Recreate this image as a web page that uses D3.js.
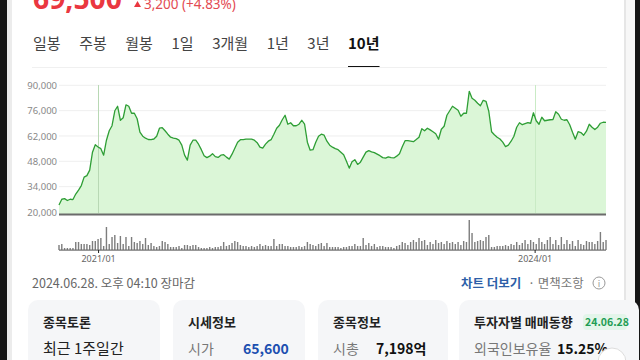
<!DOCTYPE html>
<html><head><meta charset="utf-8">
<script src="https://cdn.jsdelivr.net/npm/d3@7"></script>
<style>
html,body{margin:0;padding:0;background:#fff;}
svg{display:block;font-family:"Noto Sans CJK KR","Noto Sans",sans-serif;}
</style></head><body>
<svg id="c" width="640" height="360"></svg>
<script>
// ---------- data ----------
const startDate = "2020-09-25"; // weekly closes (Fridays) to 2024-06-28
const prices = [
23900,27050,27380,26340,27050,26890,29920,32120,34600,39290,
40110,43140,53060,57190,55930,54990,51410,59670,64900,67660,
75930,78410,70690,72070,79230,78410,74550,74550,71520,64080,
61880,60770,60060,59950,60330,61880,66290,66560,64900,62980,
61330,60880,60500,59670,56920,51410,48650,56920,59670,59670,
57470,54440,51130,50030,50860,52230,50580,50140,51410,51680,
50310,49200,51960,55260,58570,59950,59950,60220,60220,60220,
59670,58290,55810,55260,57470,59120,59950,62980,66290,67940,
70970,73450,68490,69320,67660,67660,68490,70690,68490,58570,
54160,54440,58570,61880,62980,62430,59120,56920,55810,54990,
54440,53060,51680,48100,44240,47720,48930,46290,47550,50310,
53060,53890,53230,52780,51960,51130,50030,49750,50470,50030,
49860,50860,52230,56090,59400,59400,59120,58850,60060,61330,
66010,64900,66290,65350,64360,63250,60220,65730,67390,73450,
75930,78410,77310,76200,72900,74550,74550,86670,82810,81710,
80060,78680,81710,81160,75650,64360,62700,61330,60330,58570,
56090,56920,59120,61880,66840,69320,68220,68770,69320,69040,
74820,70420,68490,72350,70420,70690,70970,71080,75380,74000,
71240,70690,70970,68220,64080,60220,64360,63910,62430,64630,
68490,66840,65570,66840,69040,69590,69500
];
const volumes = [ // thousand shares per week
500,600,200,200,200,200,800,800,600,600,
600,500,900,900,1100,1200,400,2300,600,1300,
1500,700,1400,600,1300,400,1300,800,700,900,
600,1200,500,700,400,300,400,900,800,600,
300,300,300,400,200,500,500,400,500,500,
300,200,200,200,300,200,300,300,400,800,
400,500,700,900,800,500,400,400,300,400,
300,400,600,400,500,400,400,1100,400,600,
600,400,400,300,300,300,400,300,400,800,
600,500,400,600,700,400,700,300,300,300,
300,200,300,300,400,400,600,400,400,1200,
500,700,400,600,300,400,400,300,300,300,
200,400,500,800,700,500,800,1000,800,1200,
900,1000,500,800,600,1000,700,800,600,900,
700,800,600,800,500,900,800,3000,1700,800,
900,1000,900,1300,1500,300,300,400,400,400,
500,400,600,500,800,500,700,1000,600,1000,
800,600,1200,800,600,1000,1300,600,1000,500,
1300,600,1000,600,900,400,1000,600,500,900,
800,800,600,900,1800,800,1000
];
const priceTicks = [20000,34000,48000,62000,76000,90000];
const dateTicks = ["2021-01-01","2024-01-01"];
const dateTickLabels = ["2021/01","2024/01"];
const tabs = ["일봉","주봉","월봉","1일","3개월","1년","3년","10년"];
const activeTab = "10년";
const lastPrice = "69,500";
const change = "3,200 (+4.83%)";
const timestamp = "2024.06.28. 오후 04:10 장마감";
const cardTitles = ["종목토론","시세정보","종목정보","투자자별 매매동향"];
const cardLabels = ["최근 1주일간","시가","시총","외국인보유율"];
const cardValues = ["","65,600","7,198억","15.25%"];

// ---------- drawing ----------
const svg = d3.select("#c");
const parse = d3.timeParse("%Y-%m-%d");
const t0 = parse(startDate);
const dates = prices.map((_, i) => d3.timeDay.offset(t0, 7 * i));
const series = prices.map((p, i) => ({date: dates[i], price: p, vol: volumes[i]}));

// frame
svg.append("rect").attr("x",0).attr("y",0).attr("width",640).attr("height",360).attr("fill","#fff");
svg.append("rect").attr("x",0).attr("y",0).attr("width",7).attr("height",360).attr("fill","#161616");
svg.append("rect").attr("x",7).attr("y",0).attr("width",5).attr("height",360).attr("fill","#ececec");
svg.append("rect").attr("x",624).attr("y",0).attr("width",2).attr("height",360).attr("fill","#e6e6e6");
svg.append("rect").attr("x",626).attr("y",0).attr("width",9).attr("height",360).attr("fill","#f7f7f7");
svg.append("rect").attr("x",635).attr("y",0).attr("width",5).attr("height",360).attr("fill","#161616");

// header price (cut off at the top as in the reference)
const big = svg.append("text").attr("x",33).attr("y",9).attr("font-size",30).attr("font-weight",700)
  .attr("font-family","'Noto Sans',sans-serif").attr("fill","#ea3740").text(lastPrice);
const bw = big.node().getComputedTextLength();
big.attr("font-size", 30 * 89 / bw);
svg.append("path").attr("d","M134,7 L137.5,1 L141,7 Z").attr("fill","#ea3740");
svg.append("text").attr("x",144).attr("y",9).attr("font-size",13.5)
  .attr("font-family","'Noto Sans',sans-serif").attr("fill","#e34a52").text(change);

// tabs
const tabStart = 33, tabEnd = 348;
const tabG = svg.append("g");
const tabEls = tabs.map(t => tabG.append("text").attr("y",49).attr("font-size",15)
    .attr("fill", t===activeTab ? "#111" : "#444").attr("font-weight", t===activeTab ? 700 : 400).text(t));
const widths = tabEls.map(e => e.node().getComputedTextLength());
const gap = (tabEnd - tabStart - d3.sum(widths.slice(0, -1))) / (tabs.length - 1);
let tx = tabStart;
tabEls.forEach((el, i) => {
  el.attr("x", tx);
  if (tabs[i]===activeTab) {
    svg.append("rect").attr("x",tx).attr("y",66).attr("width",widths[i]).attr("height",2).attr("fill","#111");
  }
  tx += widths[i] + gap;
});
svg.append("rect").attr("x",32).attr("y",67).attr("width",575).attr("height",1).attr("fill","#f0f0f0");

// scales
const x = d3.scaleTime().domain(d3.extent(dates)).range([59, 606]);
const y = d3.scaleLinear().domain([20000, 90000]).range([212, 85.3]);
const yv = d3.scaleLinear().domain([0, d3.max(volumes)]).range([250, 220]);

// gridlines
svg.append("g").selectAll("line").data(priceTicks).join("line")
  .attr("x1",59).attr("x2",606).attr("y1",d=>y(d)).attr("y2",d=>y(d))
  .attr("stroke","#efefef").attr("stroke-width",1);
svg.append("g").selectAll("line").data(dateTicks).join("line")
  .attr("x1",d=>Math.round(x(parse(d)))+0.5).attr("x2",d=>Math.round(x(parse(d)))+0.5)
  .attr("y1",85).attr("y2",213)
  .attr("stroke",(d,i)=> i===0 ? "#cfcfcf" : "#ececec").attr("stroke-width",1);

// y axis labels
const yAxis = d3.axisLeft(y).tickValues(priceTicks).tickSize(0).tickPadding(2)
  .tickFormat(d3.format(","));
const ya = svg.append("g").attr("transform","translate(59,0)").call(yAxis);
ya.select(".domain").remove();
ya.selectAll("text").attr("font-size",9.5).attr("fill","#888")
  .attr("font-family","'Noto Sans',sans-serif");

// area + line
const area = d3.area().x(d=>x(d.date)).y0(214).y1(d=>y(d.price));
svg.append("path").datum(series).attr("d",area).attr("fill","#d9f5d5").attr("opacity",0.95);
svg.append("g").selectAll("line").data(dateTicks).join("line")
  .attr("x1",d=>Math.round(x(parse(d)))+0.5).attr("x2",d=>Math.round(x(parse(d)))+0.5)
  .attr("y1",85).attr("y2",213)
  .attr("stroke",(d,i)=> i===0 ? "#b8d8b4" : "#c9ebc5").attr("stroke-width",1);
const line = d3.line().x(d=>x(d.date)).y(d=>y(d.price));
svg.append("path").datum(series).attr("d",line).attr("fill","none")
  .attr("stroke","#2e9e35").attr("stroke-width",1.3).attr("stroke-linejoin","round");
svg.append("rect").attr("x",59).attr("y",213.5).attr("width",547).attr("height",2).attr("fill","#6b6b6b");

// volume
svg.append("g").selectAll("rect").data(series).join("rect")
  .attr("x",d=>x(d.date)-0.7).attr("width",1.4)
  .attr("y",d=>yv(d.vol)).attr("height",d=>250-yv(d.vol))
  .attr("fill","#7d7d7d");
svg.append("rect").attr("x",59).attr("y",249.5).attr("width",547).attr("height",1.2).attr("fill","#6b6b6b");

// date axis
const xAxis = d3.axisBottom(x).tickValues(dateTicks.map(parse)).tickSize(3).tickPadding(3)
  .tickFormat((d,i)=>dateTickLabels[i]);
const xa = svg.append("g").attr("transform","translate(0,250)").call(xAxis);
xa.select(".domain").remove();
xa.selectAll("line").attr("stroke","#222");
xa.selectAll("text").attr("font-size",9).attr("fill","#666").attr("font-family","'Noto Sans',sans-serif");

// timestamp + links
svg.append("text").attr("x",32).attr("y",288).attr("font-size",12.5).attr("fill","#666").text(timestamp);
svg.append("text").attr("x",461).attr("y",288).attr("font-size",12.5).attr("font-weight",700).attr("fill","#2d5fa8").text("차트 더보기");
svg.append("text").attr("x",528).attr("y",288).attr("font-size",12.5).attr("fill","#777").text("· 면책조항");
svg.append("circle").attr("cx",599).attr("cy",283).attr("r",6).attr("fill","none").attr("stroke","#999").attr("stroke-width",1);
svg.append("text").attr("x",599).attr("y",287).attr("text-anchor","middle").attr("font-size",9).attr("fill","#999").text("i");

// cards
const cardX = [28,173,318,459];
const cardW = [132,132,130,180];
const cg = svg.append("g").selectAll("g").data(cardTitles).join("g");
cg.append("rect").attr("x",(d,i)=>cardX[i]).attr("y",300).attr("width",(d,i)=>cardW[i]).attr("height",80)
  .attr("rx",10).attr("fill","#f5f6f8");
cg.append("text").attr("x",(d,i)=>cardX[i]+15).attr("y",327).attr("font-size",13).attr("font-weight",700)
  .attr("fill","#222").text(d=>d);
cg.append("text").attr("x",(d,i)=>cardX[i]+15).attr("y",354).attr("font-size",(d,i)=>i===0?15:14)
  .attr("fill",(d,i)=>i===0?"#222":"#777").text((d,i)=>cardLabels[i]);
const valX = [0,243,376,557];
cg.append("text").attr("x",(d,i)=>valX[i]).attr("y",354).attr("font-size",14).attr("font-weight",700)
  .attr("fill",(d,i)=>i===1?"#1c4fb0":"#111").text((d,i)=>cardValues[i]);
svg.append("rect").attr("x",583).attr("y",314).attr("width",44).attr("height",16).attr("rx",4).attr("fill","#e3f5ea");
svg.append("text").attr("x",585).attr("y",326).attr("font-size",10.5).attr("font-weight",700).attr("fill","#1f9d55").text("24.06.28");
svg.append("circle").attr("cx",612).attr("cy",362).attr("r",14).attr("fill","#fff").attr("stroke","#ddd");
</script></body></html>
